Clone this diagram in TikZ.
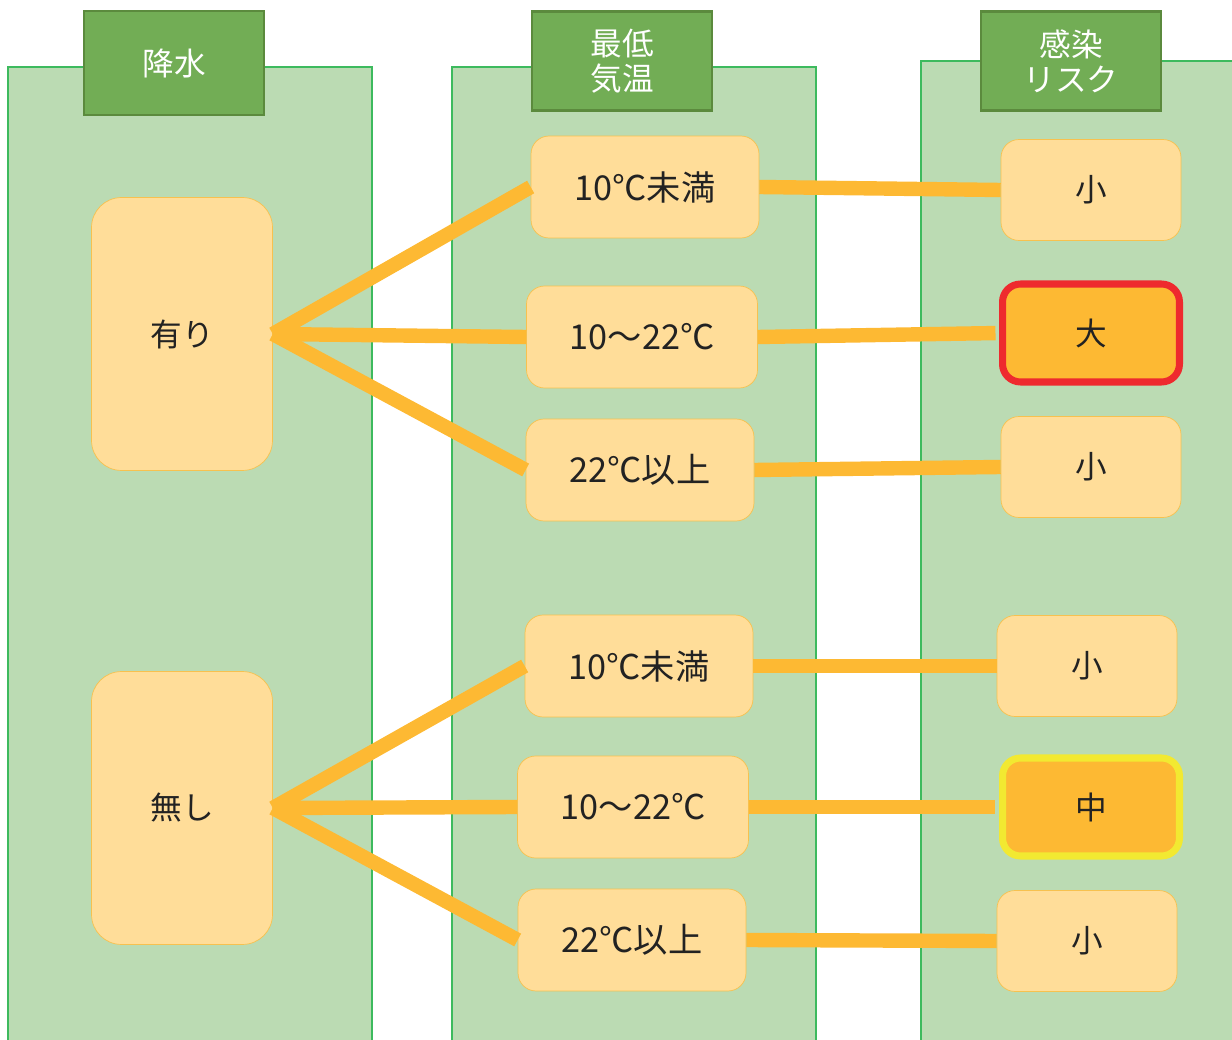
\documentclass[tikz,border=0pt]{standalone}
\usepackage{fontspec}
\newfontfamily\jpfont{Noto Sans CJK JP}
\definecolor{panelfill}{HTML}{BBDBB3}
\definecolor{panelline}{HTML}{3DBA5E}
\definecolor{hdrfill}{HTML}{72AD55}
\definecolor{hdrline}{HTML}{5B8A3D}
\definecolor{boxfill}{HTML}{FFDD99}
\definecolor{boxline}{HTML}{F7C14F}
\definecolor{linkorange}{HTML}{FDB933}
\definecolor{riskred}{HTML}{EE2A2E}
\definecolor{riskyellow}{HTML}{F2E931}
\definecolor{ink}{HTML}{222222}
\begin{document}
\begin{tikzpicture}[x=0.02cm, y=-0.02cm,
  panel/.style={fill=panelfill, draw=panelline, line width=1.3pt},
  hdr/.style={draw=hdrline, line width=1.5pt, fill=hdrfill, text=white,
              minimum width=3.6cm, align=center,
              font=\jpfont\fontsize{18}{20}\selectfont},
  rain/.style={draw=boxline, thin, fill=boxfill, rounded corners=0.6cm,
               minimum width=3.62cm, minimum height=5.46cm, text=ink,
               font=\jpfont\fontsize{18}{20}\selectfont},
  temp/.style={draw=boxline, thin, fill=boxfill, rounded corners=0.36cm,
               minimum width=4.56cm, minimum height=2.04cm, text=ink,
               font=\jpfont\fontsize{19.5}{20}\selectfont},
  risk/.style={draw=boxline, thin, fill=boxfill, rounded corners=0.36cm,
               minimum width=3.6cm, minimum height=2.02cm, text=ink,
               font=\jpfont\fontsize{18}{20}\selectfont},
  hirisk/.style={risk, fill=linkorange, line width=4pt,
                 minimum width=3.54cm, minimum height=1.96cm},
  link/.style={draw=linkorange, line width=8.2pt},
]
\useasboundingbox (0,0) rectangle (1232,1040);
% columns
\draw[panel] (8,67) rectangle (372,1050);
\draw[panel] (452,67) rectangle (816,1050);
\draw[panel] (921,61) rectangle (1245,1050);
\node[hdr, minimum height=2.08cm] (hrain) at (174,63) {降水};
\node[hdr, minimum height=1.98cm] (htemp) at (622,61) {最低\\気温};
\node[hdr, minimum height=1.98cm] (hrisk) at (1071,61) {感染\\リスク};
% precipitation
\node[rain] (yes) at (182,334) {有り};
\node[rain] (no) at (182,808) {無し};
% minimum temperature
\node[temp] (yes1) at (645,187) {10℃未満};
\node[temp, minimum width=4.62cm] (yes2) at (642,337) {10～22℃};
\node[temp] (yes3) at (640,470) {22℃以上};
\node[temp] (no1) at (639,666) {10℃未満};
\node[temp, minimum width=4.62cm] (no2) at (633,807) {10～22℃};
\node[temp] (no3) at (632,940) {22℃以上};
% infection risk
\node[risk] (ryes1) at (1091,190) {小};
\node[hirisk, draw=riskred] (ryes2) at (1091,333) {大};
\node[risk] (ryes3) at (1091,467) {小};
\node[risk] (rno1) at (1087,666) {小};
\node[hirisk, draw=riskyellow] (rno2) at (1091,807) {中};
\node[risk] (rno3) at (1087,941) {小};
% links
\foreach \a/\b in {yes/yes1, yes/yes2, yes/yes3, no/no1, no/no2, no/no3}
  \draw[link] (\a.east) -- (\b.west);
\foreach \a/\b in {yes1/ryes1, yes3/ryes3, no1/rno1, no3/rno3}
  \draw[link] (\a.east) -- (\b.west);
\draw[link, shorten >=2pt] (yes2.east) -- (ryes2.west);
\draw[link, shorten >=2pt] (no2.east) -- (rno2.west);
\end{tikzpicture}
\end{document}
